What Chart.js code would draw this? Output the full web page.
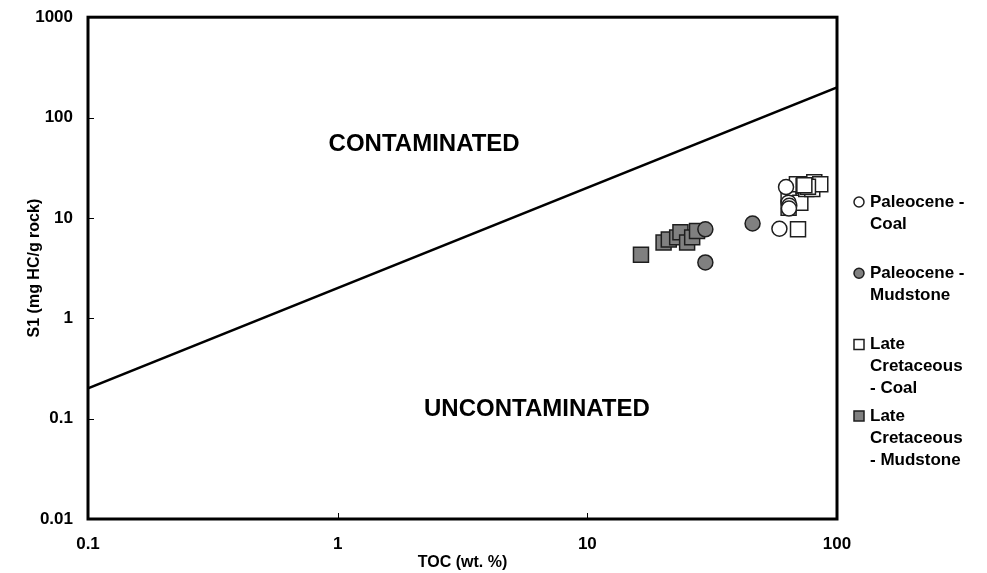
<!DOCTYPE html>
<html>
<head>
<meta charset="utf-8">
<script src="https://cdn.jsdelivr.net/npm/chart.js@4"></script>
<style>
  body { margin: 0; background: #fff; }
  canvas { display: block; }
</style>
</head>
<body>
<canvas id="s1Chart" width="987" height="573"></canvas>
<script>
// axis ticks
const xTicks = [0.1, 1, 10, 100];
const xTickLabels = ['0.1', '1', '10', '100'];
const yTicks = [0.01, 0.1, 1, 10, 100, 1000];
const yTickLabels = ['0.01', '0.1', '1', '10', '100', '1000'];

// contamination boundary (S1 = 2 x TOC)
const boundaryToc = [0.1, 100];
const boundaryS1 = [0.2, 200];

// samples, TOC (wt. %) and S1 (mg HC/g rock)
const paleoCoalToc = [58.8, 62.5, 64.0, 64.4, 64.2];
const paleoCoalS1 = [7.8, 20.3, 14.2, 13.2, 12.4];

const paleoMudToc = [29.7, 29.7, 45.9];
const paleoMudS1 = [7.7, 3.6, 8.8];

const lateCoalToc = [69.8, 64.0, 64.0, 71.3, 69.1, 73.5, 75.3, 78.2, 79.6, 81.1, 85.7, 76.5, 74.0];
const lateCoalS1 = [7.7, 17.2, 12.6, 14.2, 21.6, 20.8, 19.4, 21.6, 19.4, 22.7, 21.6, 20.5, 21.2];

const lateMudToc = [16.4, 20.2, 21.2, 22.9, 23.6, 25.1, 26.3, 27.5];
const lateMudS1 = [4.3, 5.7, 6.1, 6.4, 7.2, 5.7, 6.4, 7.4];

// legend text, one entry per line
const legendLines = [
    ['Paleocene -', 'Coal'],
    ['Paleocene -', 'Mudstone'],
    ['Late', 'Cretaceous', '- Coal'],
    ['Late', 'Cretaceous', '- Mudstone']
];

const FONT = '"Liberation Sans", Arial, sans-serif';
const GREY = '#808080';
const EDGE = '#1e1e1e';

function pairs(xs, ys) {
    return xs.map((x, i) => ({ x: x, y: ys[i] }));
}

const series = [
    { data: pairs(paleoCoalToc, paleoCoalS1), fill: '#ffffff', style: 'circle', r: 7.5 },
    { data: pairs(paleoMudToc, paleoMudS1), fill: GREY, style: 'circle', r: 7.5 },
    { data: pairs(lateCoalToc, lateCoalS1), fill: '#ffffff', style: 'rect', r: 10.6 },
    { data: pairs(lateMudToc, lateMudS1), fill: GREY, style: 'rect', r: 10.6 }
];

// frame, inner ticks and the two zone labels
const framePlugin = {
    id: 'frame',
    afterDraw(chart) {
        const ctx = chart.ctx;
        const a = chart.chartArea;
        const xs = chart.scales.x, ys = chart.scales.y;
        ctx.save();
        ctx.strokeStyle = '#000';
        ctx.lineWidth = 1;
        xTicks.forEach(v => {
            const px = Math.round(xs.getPixelForValue(v)) + 0.5;
            ctx.beginPath(); ctx.moveTo(px, a.bottom); ctx.lineTo(px, a.bottom - 6); ctx.stroke();
        });
        yTicks.forEach(v => {
            const py = Math.round(ys.getPixelForValue(v)) + 0.5;
            ctx.beginPath(); ctx.moveTo(a.left, py); ctx.lineTo(a.left + 6, py); ctx.stroke();
        });
        ctx.lineWidth = 3;
        ctx.strokeRect(a.left, a.top, a.right - a.left, a.bottom - a.top);

        ctx.fillStyle = '#000';
        ctx.font = 'bold 24px ' + FONT;
        ctx.textAlign = 'center';
        ctx.textBaseline = 'middle';
        ctx.fillText('CONTAMINATED', xs.getPixelForValue(2.22), ys.getPixelForValue(54));
        ctx.fillText('UNCONTAMINATED', xs.getPixelForValue(6.28), ys.getPixelForValue(0.123));
        ctx.restore();
    }
};

// legend at the right, wrapped like the original
const sideLegend = {
    id: 'sideLegend',
    afterDraw(chart) {
        const ctx = chart.ctx;
        ctx.save();
        ctx.font = 'bold 17px ' + FONT;
        ctx.textBaseline = 'middle';
        ctx.textAlign = 'left';
        legendLines.forEach((lines, i) => {
            const s = series[i];
            const y0 = 202 + i * 71.3;
            ctx.fillStyle = s.fill;
            ctx.strokeStyle = EDGE;
            ctx.lineWidth = 1.5;
            ctx.beginPath();
            if (s.style === 'circle') {
                ctx.arc(859, y0, 5, 0, Math.PI * 2);
            } else {
                ctx.rect(854, y0 - 5, 10, 10);
            }
            ctx.fill();
            ctx.stroke();
            ctx.fillStyle = '#000';
            lines.forEach((t, j) => ctx.fillText(t, 870, y0 + j * 22));
        });
        ctx.restore();
    }
};

const ctx = document.getElementById('s1Chart').getContext('2d');
window.chart = new Chart(ctx, {
    type: 'scatter',
    data: {
        datasets: [
            {
                type: 'line',
                label: 'boundary',
                data: pairs(boundaryToc, boundaryS1),
                borderColor: '#000',
                borderWidth: 2.5,
                pointRadius: 0,
                fill: false
            }
        ].concat(series.map((s, i) => ({
            label: legendLines[i].join(' '),
            data: s.data,
            pointStyle: s.style,
            pointRadius: s.r,
            pointBackgroundColor: s.fill,
            pointBorderColor: EDGE,
            pointBorderWidth: 1.5,
            backgroundColor: s.fill,
            borderColor: EDGE
        })))
    },
    options: {
        responsive: false,
        animation: false,
        layout: { padding: { top: 15, right: 150, left: 20, bottom: 0 } },
        plugins: {
            legend: { display: false },
            tooltip: { enabled: false }
        },
        scales: {
            x: {
                type: 'logarithmic',
                min: 0.1,
                max: 100,
                afterBuildTicks: scale => { scale.ticks = xTicks.map(v => ({ value: v })); },
                afterFit: scale => { scale.height = 54; },
                grid: { display: false },
                border: { display: false },
                ticks: {
                    color: '#000',
                    padding: 7,
                    maxRotation: 0,
                    font: { family: FONT, size: 17, weight: 'bold' },
                    callback: (v, i) => xTickLabels[i]
                },
                title: {
                    display: true,
                    text: 'TOC (wt. %)',
                    color: '#000',
                    padding: { top: 0, bottom: 1 },
                    font: { family: FONT, size: 16, weight: 'bold' }
                }
            },
            y: {
                type: 'logarithmic',
                min: 0.01,
                max: 1000,
                afterBuildTicks: scale => { scale.ticks = yTicks.map(v => ({ value: v })); },
                afterFit: scale => { scale.width = 68; },
                grid: { display: false },
                border: { display: false },
                ticks: {
                    color: '#000',
                    padding: 7,
                    font: { family: FONT, size: 17, weight: 'bold' },
                    callback: (v, i) => yTickLabels[i]
                },
                title: {
                    display: true,
                    text: 'S1 (mg HC/g rock)',
                    color: '#000',
                    padding: 5,
                    font: { family: FONT, size: 16, weight: 'bold' }
                }
            }
        }
    },
    plugins: [framePlugin, sideLegend]
});
</script>
</body>
</html>
